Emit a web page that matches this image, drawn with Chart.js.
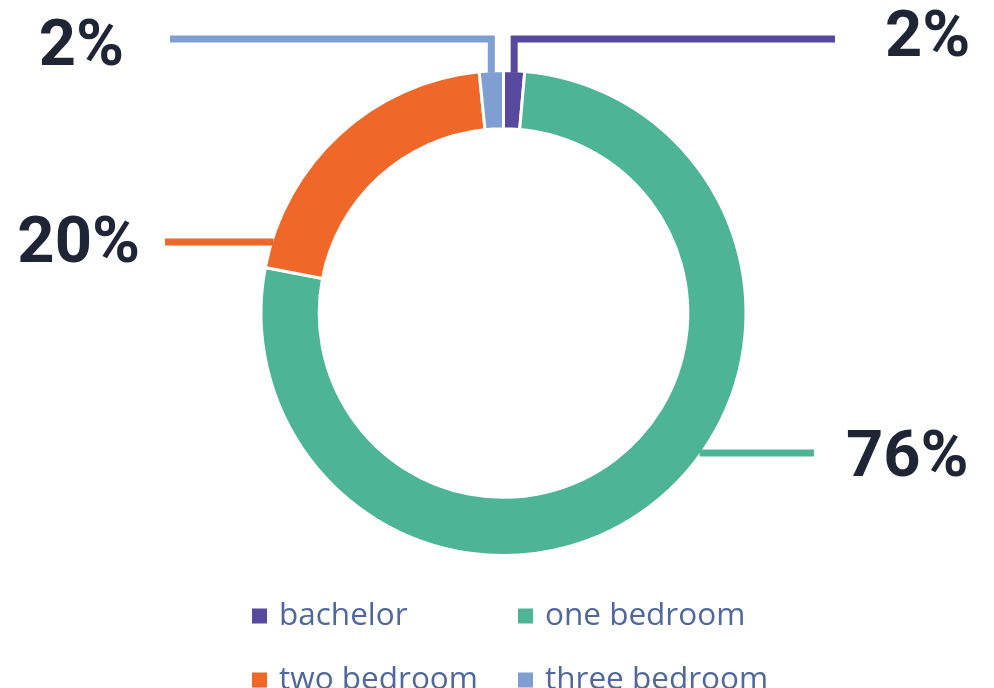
<!DOCTYPE html>
<html>
<head>
<meta charset="utf-8">
<script src="https://cdn.jsdelivr.net/npm/chart.js@4.4.1/dist/chart.umd.min.js"></script>
<style>
  html, body { margin: 0; padding: 0; background: #fff; }
  #wrap { width: 994px; height: 688px; position: relative; }
</style>
</head>
<body>
<div id="wrap"><canvas id="unitChart"></canvas></div>
<script>
// data
var unitTypes = ['bachelor', 'one bedroom', 'two bedroom', 'three bedroom'];
var unitShares = [1.4, 76.6, 20.4, 1.6];
var shareLabels = ['2%', '76%', '20%', '2%'];
var sliceColors = ['#574a9e', '#4db596', '#ef6729', '#7f9fd3'];

// where each callout goes (layout only)
var callouts = [
    { anchor: 'mid',  lineY: 39,  endX: 835, textX: 885, baseY: 56,  align: 'left' },
    { anchor: 'edge', lineY: 453, endX: 814, textX: 846, baseY: 476, align: 'left' },
    { anchor: 'edge', lineY: 242, endX: 165, textX: 140, baseY: 262, align: 'right' },
    { anchor: 'mid',  lineY: 39,  endX: 170, textX: 124, baseY: 65,  align: 'right' }
];

var calloutPlugin = {
    id: 'callouts',
    afterDraw: function(chart) {
        var ctx = chart.ctx;
        var arcs = chart.getDatasetMeta(0).data;
        ctx.save();
        arcs.forEach(function(arc, i) {
            var c = callouts[i];
            var cx = arc.x, cy = arc.y, r = arc.outerRadius;
            ctx.strokeStyle = sliceColors[i];
            ctx.lineWidth = 7;
            ctx.lineCap = 'butt';
            ctx.lineJoin = 'miter';
            ctx.beginPath();
            if (c.anchor == 'mid') {
                var mid = (arc.startAngle + arc.endAngle) / 2;
                var ax = cx + Math.cos(mid) * r;
                var ay = cy + Math.sin(mid) * r;
                ctx.moveTo(ax, ay + 2);
                ctx.lineTo(ax, c.lineY);
                ctx.lineTo(c.endX, c.lineY);
            } else {
                var dy = c.lineY - cy;
                var dx = Math.sqrt(r * r - dy * dy);
                var sx = c.endX < cx ? cx - dx + 2 : cx + dx - 2;
                ctx.moveTo(sx, c.lineY);
                ctx.lineTo(c.endX, c.lineY);
            }
            ctx.stroke();

            ctx.fillStyle = '#1f2535';
            ctx.font = '700 65px Roboto';
            ctx.textAlign = c.align;
            ctx.textBaseline = 'alphabetic';
            ctx.fillText(shareLabels[i], c.textX, c.baseY);
        });

        // legend, two columns
        var colX = [252, 518];
        var rowY = [616, 680];
        ctx.font = '31.5px "Open Sans"';
        ctx.textAlign = 'left';
        ctx.textBaseline = 'middle';
        chart.data.labels.forEach(function(lab, i) {
            var x = colX[i % 2];
            var y = rowY[Math.floor(i / 2)];
            ctx.fillStyle = sliceColors[i];
            ctx.fillRect(x, y - 7.5, 15, 15);
            ctx.fillStyle = '#51689b';
            ctx.fillText(lab, x + 27, y);
        });
        ctx.restore();
    }
};

var ctx1 = document.getElementById('unitChart').getContext('2d');
var unitChart = new Chart(ctx1, {
    type: 'doughnut',
    data: {
        labels: unitTypes,
        datasets: [{
            data: unitShares,
            backgroundColor: sliceColors,
            borderColor: '#ffffff',
            borderWidth: 3
        }]
    },
    options: {
        responsive: true,
        maintainAspectRatio: false,
        animation: false,
        cutout: '76%',
        layout: {
            padding: { top: 69, bottom: 131, left: 259, right: 246 }
        },
        plugins: {
            legend: { display: false },
            tooltip: { enabled: false }
        }
    },
    plugins: [calloutPlugin]
});
</script>
</body>
</html>
